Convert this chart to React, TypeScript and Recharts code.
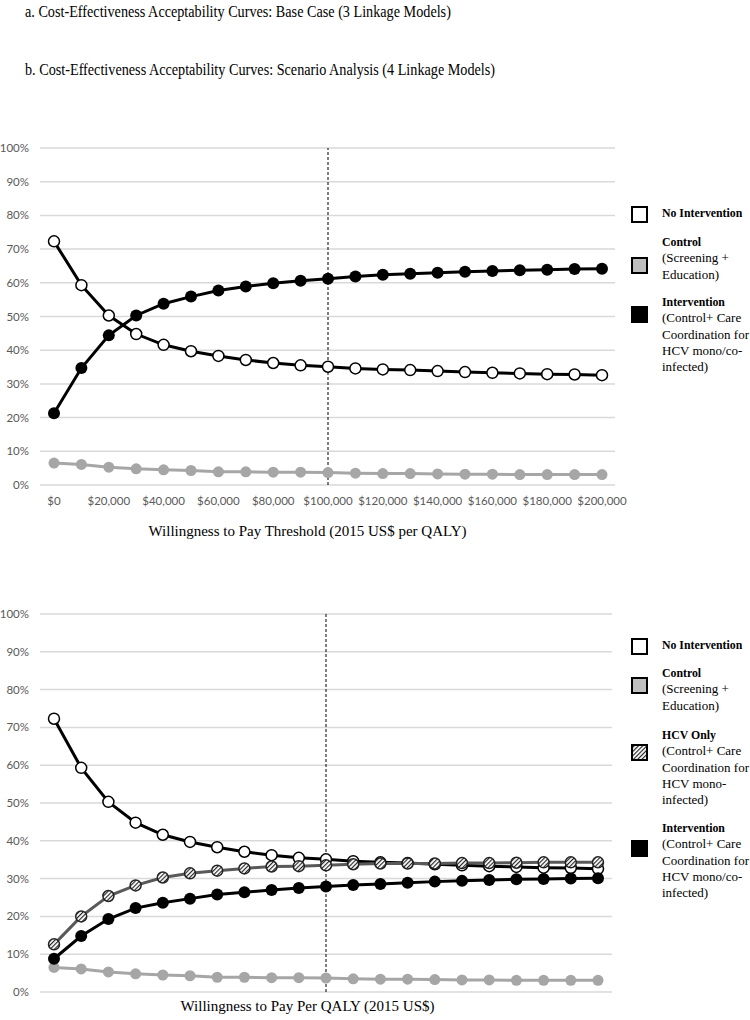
import React from "react"
import { LineChart, Line, XAxis, YAxis, CartesianGrid, ReferenceLine } from "recharts"

const wtp = [0, 10000, 20000, 30000, 40000, 50000, 60000, 70000, 80000, 90000, 100000, 110000, 120000, 130000, 140000, 150000, 160000, 170000, 180000, 190000, 200000]
const yTicks = [0, 10, 20, 30, 40, 50, 60, 70, 80, 90, 100]

// same in both panels
const noIntervention = [72.3, 59.3, 50.3, 44.8, 41.6, 39.7, 38.3, 37.1, 36.2, 35.5, 35.1, 34.6, 34.3, 34.1, 33.8, 33.5, 33.3, 33.1, 32.9, 32.8, 32.6]
const control = [6.5, 6.1, 5.3, 4.8, 4.5, 4.3, 3.9, 3.9, 3.8, 3.8, 3.7, 3.5, 3.4, 3.4, 3.3, 3.2, 3.2, 3.1, 3.1, 3.1, 3.1]

const interventionA = [21.3, 34.7, 44.4, 50.3, 53.8, 55.9, 57.7, 58.9, 59.9, 60.6, 61.2, 61.9, 62.4, 62.7, 63.0, 63.3, 63.5, 63.7, 63.9, 64.1, 64.2]
const hcvOnly = [12.6, 20.0, 25.4, 28.2, 30.3, 31.4, 32.1, 32.7, 33.2, 33.3, 33.5, 33.8, 34.0, 34.0, 34.0, 34.1, 34.1, 34.2, 34.3, 34.3, 34.3]
const interventionB = [8.8, 14.8, 19.3, 22.2, 23.6, 24.7, 25.8, 26.4, 27.0, 27.5, 27.9, 28.3, 28.6, 28.9, 29.2, 29.4, 29.6, 29.8, 29.9, 30.0, 30.1]

const dataA = wtp.map((w, i) => ({ wtp: w, none: noIntervention[i], control: control[i], intervention: interventionA[i] }))
const dataB = wtp.map((w, i) => ({ wtp: w, none: noIntervention[i], control: control[i], hcv: hcvOnly[i], intervention: interventionB[i] }))

const serif = "'Liberation Serif', 'Times New Roman', serif"
const tickStyle = { fontFamily: "Lato, sans-serif", fontSize: 11.5, fill: "#595959" }
const GRAY = "#a6a6a6"

const money = (v: number) => "$" + v.toLocaleString("en-US")
const pct = (v: number) => v + "%"

function Swatch({ top, fill }: { top: number; fill: string }) {
  return (
    <svg style={{ position: "absolute", left: 631, top }} width={17} height={17}>
      <rect x={1} y={1} width={15} height={15} fill={fill} stroke="#000" strokeWidth={2} />
    </svg>
  )
}

function LegendText({ top, title, lines }: { top: number; title: string; lines: string[] }) {
  return (
    <div style={{ position: "absolute", left: 662, top, fontFamily: serif, fontSize: 13, lineHeight: "16.3px", color: "#000", whiteSpace: "nowrap" }}>
      <div style={{ fontWeight: "bold", fontSize: 11.8 }}>{title}</div>
      {lines.map((l) => (
        <div key={l}>{l}</div>
      ))}
    </div>
  )
}

const titleStyle: React.CSSProperties = {
  position: "absolute",
  left: 25,
  fontFamily: serif,
  fontSize: 17,
  color: "#000",
  whiteSpace: "nowrap",
  transform: "scaleX(0.835)",
  transformOrigin: "left center",
}

export default function App() {
  return (
    <div style={{ position: "absolute", left: 0, top: 0, width: 750, height: 1020, background: "#fff" }}>
      <svg width={0} height={0} style={{ position: "absolute" }}>
        <defs>
          <pattern id="hatch" width={3} height={3} patternUnits="userSpaceOnUse" patternTransform="rotate(45)">
            <rect width={3} height={3} fill="#fff" />
            <line x1={0} y1={0} x2={0} y2={3} stroke="#222" strokeWidth={2.3} />
          </pattern>
        </defs>
      </svg>

      <div style={{ ...titleStyle, top: 2 }}>a. Cost-Effectiveness Acceptability Curves: Base Case (3 Linkage Models)</div>
      <div style={{ ...titleStyle, top: 60 }}>b. Cost-Effectiveness Acceptability Curves: Scenario Analysis (4 Linkage Models)</div>

      {/* panel a */}
      <div style={{ position: "absolute", left: 0, top: 138 }}>
        <LineChart width={645} height={382} data={dataA} margin={{ top: 10, right: 30, left: 0, bottom: 5 }}>
          <CartesianGrid vertical={false} stroke="#d9d9d9" strokeWidth={1.5} />
          <XAxis
            dataKey="wtp"
            axisLine={false}
            tickLine={false}
            tickSize={0}
            tickMargin={12}
            interval={1}
            height={30}
            padding={{ left: 14, right: 13 }}
            tick={tickStyle}
            tickFormatter={money}
          />
          <YAxis
            domain={[0, 100]}
            ticks={yTicks}
            interval={0}
            axisLine={false}
            tickLine={false}
            tickSize={0}
            tickMargin={11}
            width={40}
            tick={tickStyle}
            tickFormatter={pct}
          />
          <ReferenceLine x={100000} stroke="#000" strokeWidth={1} strokeDasharray="3 2" />
          <Line dataKey="control" stroke={GRAY} strokeWidth={3} dot={{ r: 5.5, fill: GRAY, stroke: GRAY, strokeWidth: 0 }} activeDot={false} isAnimationActive={false} />
          <Line dataKey="none" stroke="#000" strokeWidth={3} dot={{ r: 5.5, fill: "#fff", stroke: "#000", strokeWidth: 1.5 }} activeDot={false} isAnimationActive={false} />
          <Line dataKey="intervention" stroke="#000" strokeWidth={3} dot={{ r: 6, fill: "#000", stroke: "#000", strokeWidth: 0 }} activeDot={false} isAnimationActive={false} />
        </LineChart>
      </div>
      <div style={{ position: "absolute", left: 0, width: 615, top: 523, textAlign: "center", fontFamily: serif, fontSize: 15, color: "#000" }}>
        Willingness to Pay Threshold (2015 US$ per QALY)
      </div>

      <Swatch top={206} fill="#fff" />
      <LegendText top={205} title="No Intervention" lines={[]} />
      <Swatch top={257} fill="#bfbfbf" />
      <LegendText top={234} title="Control" lines={["(Screening +", "Education)"]} />
      <Swatch top={306} fill="#000" />
      <LegendText top={294} title="Intervention" lines={["(Control+ Care", "Coordination for", "HCV mono/co-", "infected)"]} />

      {/* panel b */}
      <div style={{ position: "absolute", left: 0, top: 604 }}>
        <LineChart width={617} height={403} data={dataB} margin={{ top: 10, right: 5, left: 0, bottom: 15 }}>
          <CartesianGrid vertical={false} stroke="#d9d9d9" strokeWidth={1.5} />
          <XAxis dataKey="wtp" hide padding={{ left: 14, right: 14 }} />
          <YAxis
            domain={[0, 100]}
            ticks={yTicks}
            interval={0}
            axisLine={false}
            tickLine={false}
            tickSize={0}
            tickMargin={11}
            width={40}
            tick={tickStyle}
            tickFormatter={pct}
          />
          <ReferenceLine x={100000} stroke="#000" strokeWidth={1} strokeDasharray="3 2" />
          <Line dataKey="control" stroke={GRAY} strokeWidth={3} dot={{ r: 5.5, fill: GRAY, stroke: GRAY, strokeWidth: 0 }} activeDot={false} isAnimationActive={false} />
          <Line dataKey="none" stroke="#000" strokeWidth={3} dot={{ r: 5.5, fill: "#fff", stroke: "#000", strokeWidth: 1.5 }} activeDot={false} isAnimationActive={false} />
          <Line dataKey="hcv" stroke="#595959" strokeWidth={3} dot={{ r: 5.5, fill: "url(#hatch)", stroke: "#222", strokeWidth: 1.5 }} activeDot={false} isAnimationActive={false} />
          <Line dataKey="intervention" stroke="#000" strokeWidth={3} dot={{ r: 6, fill: "#000", stroke: "#000", strokeWidth: 0 }} activeDot={false} isAnimationActive={false} />
        </LineChart>
      </div>
      <div style={{ position: "absolute", left: 0, width: 615, top: 998, textAlign: "center", fontFamily: serif, fontSize: 15, color: "#000" }}>
        Willingness to Pay Per QALY (2015 US$)
      </div>

      <Swatch top={638} fill="#fff" />
      <LegendText top={637} title="No Intervention" lines={[]} />
      <Swatch top={677} fill="#bfbfbf" />
      <LegendText top={665} title="Control" lines={["(Screening +", "Education)"]} />
      <Swatch top={744} fill="url(#hatch)" />
      <LegendText top={727} title="HCV Only" lines={["(Control+ Care", "Coordination for", "HCV mono-", "infected)"]} />
      <Swatch top={840} fill="#000" />
      <LegendText top={820} title="Intervention" lines={["(Control+ Care", "Coordination for", "HCV mono/co-", "infected)"]} />
    </div>
  )
}
